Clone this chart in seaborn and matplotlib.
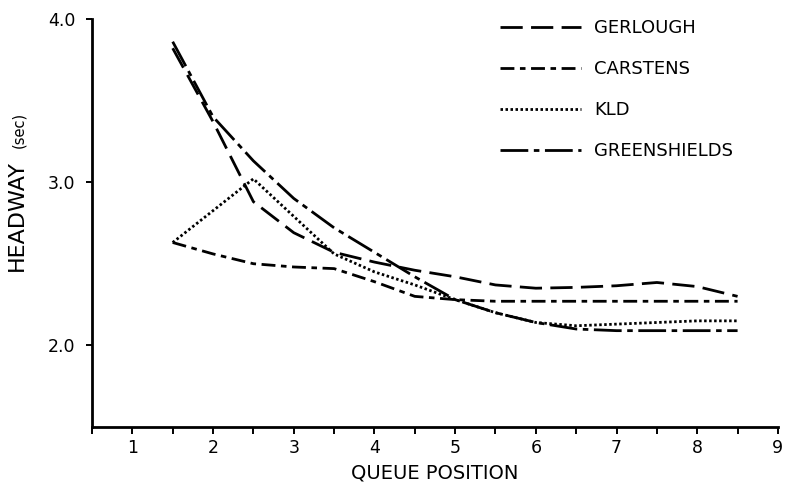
import matplotlib
matplotlib.use("Agg")
import matplotlib.pyplot as plt
import seaborn as sns
from matplotlib.ticker import MultipleLocator

# --- data ---
x_half = [1.5, 2.0, 2.5, 3.0, 3.5, 4.0, 4.5, 5.0, 5.5, 6.0, 6.5, 7.0, 7.5, 8.0, 8.5]
gerlough = [3.82, 3.37, 2.88, 2.69, 2.57, 2.51, 2.46, 2.42, 2.37, 2.35, 2.355, 2.365, 2.385, 2.36, 2.30]
carstens = [2.63, 2.56, 2.50, 2.48, 2.47, 2.39, 2.30, 2.28, 2.27, 2.27, 2.27, 2.27, 2.27, 2.27, 2.27]
greenshields = [3.86, 3.40, 3.13, 2.90, 2.72, 2.57, 2.42, 2.28, 2.20, 2.14, 2.10, 2.09, 2.09, 2.09, 2.09]
x_kld = [1.5, 2.5, 3.5, 4.0, 4.5, 5.0, 5.5, 6.0, 6.5, 7.0, 7.5, 8.0, 8.5]
kld = [2.63, 3.02, 2.56, 2.45, 2.37, 2.28, 2.20, 2.14, 2.12, 2.13, 2.14, 2.15, 2.15]

series = [
    ("GERLOUGH", x_half, gerlough, (0, (8, 3))),
    ("CARSTENS", x_half, carstens, (0, (5, 2, 2, 2))),
    ("KLD", x_kld, kld, (0, (0.9, 0.9))),
    ("GREENSHIELDS", x_half, greenshields, (0, (10, 2, 2, 2))),
]

sns.set_theme(style="ticks")
plt.rcParams['font.family'] = ['DejaVu Sans']

fig = plt.figure(figsize=(7.93, 4.83), dpi=100)
ax = fig.add_axes([0.116, 0.116, 0.865, 0.845])

for name, xs, ys, ls in series:
    sns.lineplot(x=xs, y=ys, ax=ax, color="black", linewidth=2.0,
                 linestyle=ls, label=name, sort=False, errorbar=None)

ax.set_xlim(0.5, 9)
ax.set_ylim(1.5, 4.0)
ax.set_xticks(range(1, 10))
ax.xaxis.set_minor_locator(MultipleLocator(0.5))
ax.set_yticks([2.0, 3.0, 4.0])
ax.set_yticklabels(["2.0", "3.0", "4.0"])
ax.tick_params(axis="x", which="major", length=5, width=1.4, labelsize=12.5, pad=4,
               color="black", labelcolor="black")
ax.tick_params(axis="y", which="major", length=4, width=1.4, labelsize=12.5, pad=8,
               color="black", labelcolor="black")
ax.tick_params(axis="x", which="minor", length=5, width=1.4, color="black")
ax.tick_params(axis="y", which="minor", length=0)

for side in ["top", "right"]:
    ax.spines[side].set_visible(False)
for side in ["left", "bottom"]:
    ax.spines[side].set_linewidth(2.0)
    ax.spines[side].set_color("black")

ax.set_xlabel("QUEUE POSITION", fontsize=14, color="black", labelpad=4)
ax.set_ylabel("")
# y label: big "HEADWAY" and smaller "(sec)" sharing one baseline
fig.text(23 / 793, 1 - 271 / 483, "HEADWAY", rotation=90, rotation_mode="anchor",
         ha="left", va="baseline", fontsize=16, color="black")
fig.text(23 / 793, 1 - 148 / 483, "(sec)", rotation=90, rotation_mode="anchor",
         ha="left", va="baseline", fontsize=10.5, color="black")

ax.legend(loc="upper left", bbox_to_anchor=(0.595, 1.0), frameon=False,
          fontsize=13, handlelength=4.5, handletextpad=0.72, labelspacing=1.28,
          borderpad=0, borderaxespad=0, labelcolor="black")

fig.savefig("out.png", dpi=100)
